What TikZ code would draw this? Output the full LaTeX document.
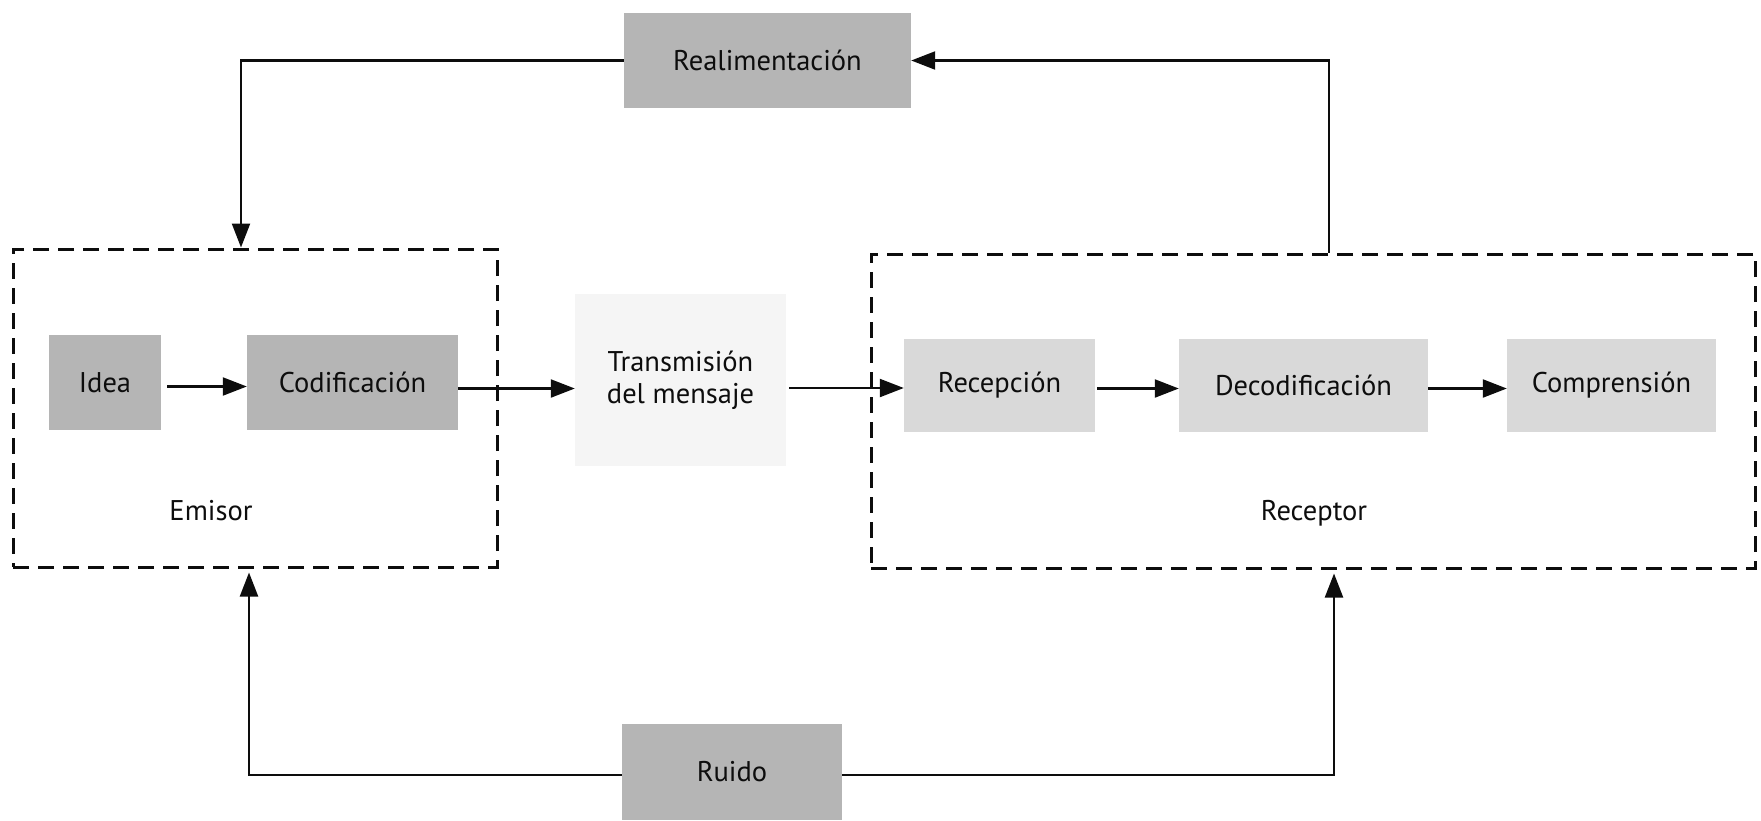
\documentclass[tikz,border=0pt]{standalone}
\usepackage{fontspec}
\setmainfont{PT Sans}
\usetikzlibrary{arrows.meta}
\definecolor{boxdark}{gray}{0.71}
\definecolor{boxmid}{gray}{0.85}
\definecolor{boxlight}{gray}{0.96}
\definecolor{ink}{gray}{0.05}
\begin{document}
\begin{tikzpicture}[x=1pt,y=-1pt,
  every node/.style={font=\fontsize{28.5}{32}\selectfont, text=ink},
  darkbox/.style={fill=boxdark, inner sep=0pt},
  midbox/.style={fill=boxmid, inner sep=0pt},
  lightbox/.style={fill=boxlight, inner sep=0pt, align=center},
  group/.style={draw=ink, line width=3pt, dash pattern=on 16pt off 9pt, inner sep=0pt},
  conn/.style={draw=ink, line width=2.2pt},
  arr/.style={conn, -{Triangle[length=24pt,width=18pt]}}]
\useasboundingbox (0,0) rectangle (1761,820);

% dashed groups
\node[group, minimum width=484pt, minimum height=318pt] (emisor) at (255,408) {};
\node[group, minimum width=884pt, minimum height=314pt] (receptor) at (1313,411) {};
\node (emisorlbl) at (211,511) {Emisor};
\node (receptorlbl) at (1314,513) {Receptor};

% process boxes
\node[darkbox, minimum width=287pt, minimum height=95pt] (real) at (767.5,60.5) {Realimentación};
\node[darkbox, minimum width=112pt, minimum height=95pt] (idea) at (105,382.5) {Idea};
\node[darkbox, minimum width=211pt, minimum height=95pt] (cod) at (352.5,382.5) {Codificación};
\node[lightbox, minimum width=211pt, minimum height=172pt] (trans) at (680.5,380) {Transmisión\\del mensaje};
\node[midbox, minimum width=191pt, minimum height=93pt] (rec) at (999.5,385.5) {Recepción};
\node[midbox, minimum width=249pt, minimum height=93pt] (dec) at (1303.5,385.5) {Decodificación};
\node[midbox, minimum width=209pt, minimum height=93pt] (comp) at (1611.5,385.5) {Comprensión};
\node[darkbox, minimum width=220pt, minimum height=96pt] (ruido) at (732,772) {Ruido};

% message flow (horizontal arrows)
\draw[arr] ([xshift=6pt,yshift=-4pt]idea.east) -- ([yshift=-4pt]idea.east -| cod.west);
\draw[arr] ([yshift=-6pt]cod.east) -- ([yshift=-6pt]cod.east -| trans.west);
\draw[arr] ([xshift=3pt,yshift=-8pt]trans.east) -- ([yshift=-8pt]trans.east -| rec.west);
\draw[arr] ([xshift=2pt,yshift=-3pt]rec.east) -- ([yshift=-3pt]rec.east -| dec.west);
\draw[arr] ([yshift=-3pt]dec.east) -- ([yshift=-3pt]dec.east -| comp.west);

% feedback loop
\draw[arr] (real.west) -| ([xshift=-14pt]emisor.north);
\draw[arr] ([xshift=16pt]receptor.north) |- (real.east);

% noise
\draw[arr, shorten >=4pt] ([yshift=-3pt]ruido.west) -| ([xshift=-6pt]emisor.south);
\draw[arr, shorten >=4pt] ([yshift=-3pt]ruido.east) -| ([xshift=21pt]receptor.south);
\end{tikzpicture}
\end{document}
